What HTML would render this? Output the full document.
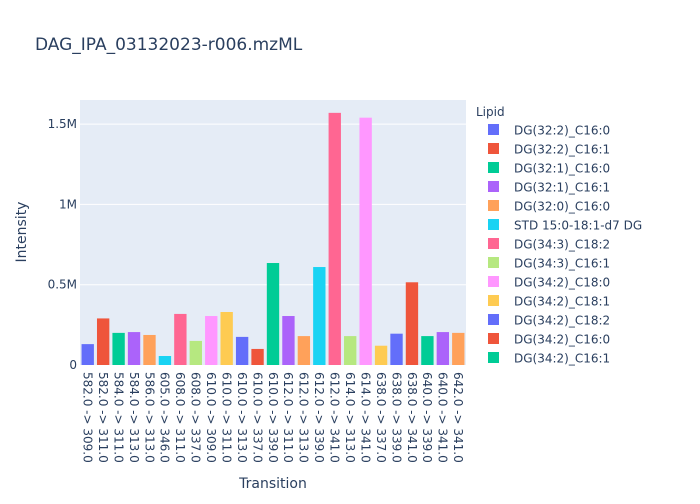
<!DOCTYPE html>
<html><head><meta charset="utf-8"><style>
body{margin:0;background:#fff;font-family:"DejaVu Sans",sans-serif;}
svg text{font-family:"DejaVu Sans",sans-serif;fill:#2a3f5f;}
</style></head><body>
<svg id="chart" width="700" height="500" xmlns="http://www.w3.org/2000/svg">
<rect width="700" height="500" fill="#fff"/>
<text x="35" y="50" font-size="17">DAG_IPA_03132023-r006.mzML</text>
<rect x="80" y="100" width="386" height="265" fill="#e5ecf6"/>
<g id="grid"></g><g id="bars"></g><g id="xt"></g><g id="yt"></g>
<text x="273" y="488" font-size="14" text-anchor="middle">Transition</text>
<text transform="translate(26,232) rotate(-90)" font-size="14" text-anchor="middle">Intensity</text>
<text x="476" y="116" font-size="12">Lipid</text>
<g id="legend"></g>
</svg>
<script>
const categories=["582.0 -> 309.0","582.0 -> 311.0","584.0 -> 311.0","584.0 -> 313.0","586.0 -> 313.0","605.0 -> 346.0","608.0 -> 311.0","608.0 -> 337.0","610.0 -> 309.0","610.0 -> 311.0","610.0 -> 313.0","610.0 -> 337.0","610.0 -> 339.0","612.0 -> 311.0","612.0 -> 313.0","612.0 -> 339.0","612.0 -> 341.0","614.0 -> 313.0","614.0 -> 341.0","638.0 -> 337.0","638.0 -> 339.0","638.0 -> 341.0","640.0 -> 339.0","640.0 -> 341.0","642.0 -> 341.0"];
const values=[130000,290000,200000,205000,187000,56000,318000,150000,305000,330000,175000,100000,635000,305000,180000,610000,1570000,180000,1540000,120000,195000,515000,180000,205000,200000];
const yTicks=[0,500000,1000000,1500000];
const yTickLabels=["0","0.5M","1M","1.5M"];
const legendLabels=["DG(32:2)_C16:0","DG(32:2)_C16:1","DG(32:1)_C16:0","DG(32:1)_C16:1","DG(32:0)_C16:0","STD 15:0-18:1-d7 DG","DG(34:3)_C18:2","DG(34:3)_C16:1","DG(34:2)_C18:0","DG(34:2)_C18:1","DG(34:2)_C18:2","DG(34:2)_C16:0","DG(34:2)_C16:1"];
const colors=["#636efa","#EF553B","#00cc96","#ab63fa","#FFA15A","#19d3f3","#FF6692","#B6E880","#FF97FF","#FECB52"];
const NS="http://www.w3.org/2000/svg";
const x0=80,pw=386,y0=365,yMax=1650000,ph=265;
const step=pw/categories.length;
const xPos=i=>x0+step*(i+0.5);
const yPos=v=>y0-v/yMax*ph;
function mk(t,a,p){const e=document.createElementNS(NS,t);for(const k in a)e.setAttribute(k,a[k]);document.getElementById(p).appendChild(e);return e;}
yTicks.forEach((v,i)=>{
  if(v>0){const g=mk("line",{x1:x0,x2:x0+pw,y1:yPos(v),y2:yPos(v),stroke:"#fff","stroke-width":1},"grid");
  
  }
  const t=mk("text",{x:x0-3,y:yPos(v)+4,"font-size":12,"text-anchor":"end"},"yt");t.textContent=yTickLabels[i];
  
  
});
categories.forEach((c,i)=>{
  const bw=step*0.8;
  const r=mk("rect",{x:xPos(i)-bw/2,y:yPos(values[i]),width:bw,height:y0-yPos(values[i]),fill:colors[i%10]},"bars");
  
  
  const t=mk("text",{transform:`translate(${xPos(i)-4.2},372) rotate(90)`,"font-size":12},"xt");t.textContent=c;
  
  
});
legendLabels.forEach((l,i)=>{
  const y=130+i*19;
  const r=mk("rect",{x:488,y:y-6,width:11,height:11,fill:colors[i%10]},"legend");
  
  
  const t=mk("text",{x:514,y:y+4.5,"font-size":12},"legend");t.textContent=l;
  
  
});
</script>
</body></html>
